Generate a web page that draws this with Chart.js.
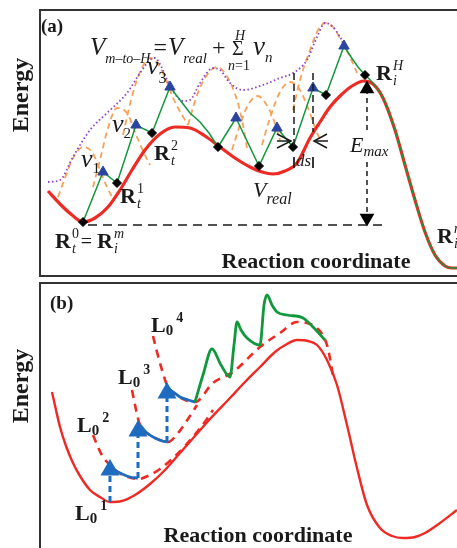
<!DOCTYPE html>
<html lang="en">
<head>
<meta charset="utf-8">
<title>Energy profiles</title>
<script src="https://cdn.jsdelivr.net/npm/chart.js@4.4.1/dist/chart.umd.min.js"></script>
<style>
  html, body { margin: 0; padding: 0; background: #fff; }
  canvas { position: absolute; left: 0; }
  #panelA { top: 0; }
  #panelB { top: 278px; }
</style>
</head>
<body>
<canvas id="panelA" width="457" height="278"></canvas>
<canvas id="panelB" width="457" height="270"></canvas>
<script>
// ===== Panel (a): x = coordenada de reaccion, e = energia =====
const rojoA_x = [48,60,72,83,95,108,120,132,145,160,175,190,205,220,235,250,262,273,285,297,310,320,330,340,352,364,373,383,395,405,415,425,435,445,452,460];
const rojoA_e = [87,74,63,56,60,71,88,108,128,144,151,150,142,131,120,111,106,104,107,115,140,156,171,182,192,197,194,180,148,113,78,46,23,12,10,10];

// camino verde en zigzag (t = triangulo, d = rombo)
const verdeA_x = [83,103,117,136,152,170,180,190,200,209,218,236,259,277,293,313,326,344,351,358,365];
const verdeA_e = [56,106,95,153,145,191,178,165,156,145,131,160,112,150,131,190,183,232,221,211,203];
const verdeA_marca = ["d","t","d","t","d","t","","","","","d","t","d","t","d","t","d","t","","","d"];
const colaA_x = [365,373,383,395,405,415,425,435,445,452,460];
const colaA_e = [203,195,180,148,113,78,46,23,12,10,10];

// envolvente punteada violeta
const violetaA_x = [48,60,73,90,107,127,140,150,155,161,167,175,183,190,200,213,220,230,243,263,280,293,307,317,325,333,340,348];
const violetaA_e = [96,98,121,148,165,185,205,218,220,212,198,184,177,178,195,210,208,195,188,193,200,205,218,241,255,251,241,228];

// jorobas naranjas (v_n)
const naranja1_x = [58,65,72,83,92,100,106,112];
const naranja1_e = [81,100,118,131,126,108,93,81];
const naranja2_x = [93,100,108,117,127,137,144,150];
const naranja2_e = [91,118,150,170,165,141,125,113];
const naranja3_x = [123,131,140,150,158,166,174,182,188];
const naranja3_e = [143,178,206,220,214,198,178,163,153];
const naranja4_x = [188,196,205,217,228,237,243,247];
const naranja4_e = [153,180,200,211,200,178,153,130];
const naranja5_x = [232,240,248,258,266,273,280];
const naranja5_e = [128,153,173,182,174,160,138];
const naranja6_x = [262,270,280,290,300,308,316,320];
const naranja6_e = [133,160,186,196,188,170,148,138];
const naranja7_x = [293,300,310,318,325,333,341,350,357];
const naranja7_e = [168,198,228,248,255,251,238,221,205];

// lineas auxiliares negras
const baseA_x = [88, 387];
const baseA_e = [53, 53];
const emaxArriba_x = [367, 367];
const emaxArriba_e = [189, 148];
const emaxAbajo_x = [367, 367];
const emaxAbajo_e = [116, 60];
const dsIzq_x = [294, 294];
const dsIzq_e = [205, 131];
const dsDer_x = [313, 313];
const dsDer_e = [205, 146];
const barraIzq_x = [294, 294];
const barraDer_x = [313, 313];
const barra_e = [121, 110];
const flechaIzq_x = [277, 291, 277];
const flechaDer_x = [327, 314, 327];
const flecha_e = [144, 137, 130];
const talloIzq_x = [277, 291];
const talloDer_x = [314, 328];
const tallo_e = [137, 137];

// ===== Panel (b) =====
const rojoB_x = [52,56,60,66,73,80,90,100,110,122,135,150,165,180,195,210,230,245,260,275,287,297,308,317,327,337,347,357,367,380,392,403,415,425,440,457];
const rojoB_e = [156,138,121,102,85,72,58,51,46,47,53,64,78,95,112,129,150,166,181,196,204,208,207,203,188,163,123,80,43,20,12,10,11,15,25,38];

const trazo2_x = [93,98,103,108,115,125,138,150,160,172,185,197,207,213];
const trazo2_e = [113,101,91,85,78,72,69,73,79,89,102,116,129,138];
const trazo3_x = [132,135,140,150,160,168,178,188,197];
const trazo3_e = [158,143,123,113,108,106,115,129,143];
const trazo4_x = [153,157,162,167,175,185,195,213,233,260,280,297,307,317,327,332,333];
const trazo4_e = [212,196,178,163,154,148,146,165,176,201,215,226,225,220,203,178,171];

const azul2_x = [108,115,122,130,138];
const azul2_e = [85,78,74,71,70];
const azul3_x = [140,147,155,162,168];
const azul3_e = [123,115,110,107,106];
const azul4_x = [167,173,180,188,195];
const azul4_e = [160,156,151,148,146];

const verdeB_x = [195,203,212,221,230,234,237,241,247,260,264,267,272,277,287,303,313,325];
const verdeB_e = [146,173,199,183,171,203,226,218,210,203,243,253,243,236,233,230,221,208];

// flechas azules verticales (base, punta)
const subida1_x = [110, 110];
const subida1_e = [46, 78];
const subida2_x = [138, 138];
const subida2_e = [70, 117];
const subida3_x = [167, 167];
const subida3_e = [106, 155];

// ===== estilos =====
const ROJO = "#ee2a24";
const VERDE = "#12983c";
const NARANJA = "#f6a25a";
const VIOLETA = "#8a3fc6";
const AZUL = "#1d6cc0";
const AZUL_OSC = "#2a45a0";
const NEGRO = "#1a1a1a";
const SERIF = '"Liberation Serif", "Times New Roman", serif';

const pares = (xs, es) => xs.map((x, i) => ({ x: x, y: es[i] }));

function serie(xs, es, estilo) {
  return Object.assign(
    { data: pares(xs, es), pointRadius: 0, borderWidth: 2, fill: false, tension: 0 },
    estilo,
  );
}

const suave = { cubicInterpolationMode: "monotone" };

function P(t, estilo, tam, dy, dx, fijo) {
  return { t: t, f: `${estilo} ${tam}px ${SERIF}`, dy: dy || 0, dx: dx || 0, fijo: !!fijo };
}

function dibujarPartes(ctx, x, y, partes) {
  let cx = x;
  partes.forEach((p) => {
    ctx.font = p.f;
    ctx.fillText(p.t, cx + p.dx, y + p.dy);
    if (!p.fijo) cx += p.dx + ctx.measureText(p.t).width;
  });
}

// marco y textos del panel
function rotulos(marco, textos) {
  return {
    id: "rotulos",
    beforeDatasetsDraw(chart) {
      const { ctx, scales } = chart;
      const x0 = scales.x.getPixelForValue(marco[0]);
      const x1 = scales.x.getPixelForValue(marco[1]);
      const y0 = scales.y.getPixelForValue(marco[2]);
      const y1 = scales.y.getPixelForValue(marco[3]);
      ctx.save();
      ctx.strokeStyle = "#333";
      ctx.lineWidth = 2;
      ctx.strokeRect(x0, y0, x1 - x0, y1 - y0);
      ctx.restore();
    },
    afterDatasetsDraw(chart) {
      const { ctx, scales } = chart;
      ctx.save();
      ctx.fillStyle = NEGRO;
      ctx.textBaseline = "alphabetic";
      textos.forEach((tx) => {
        const px = scales.x.getPixelForValue(tx.x);
        const py = scales.y.getPixelForValue(tx.e);
        if (tx.rot) {
          ctx.save();
          ctx.translate(px, py);
          ctx.rotate(-Math.PI / 2);
          ctx.textAlign = "center";
          dibujarPartes(ctx, 0, 0, tx.partes);
          ctx.restore();
        } else {
          ctx.textAlign = tx.centro ? "center" : "left";
          dibujarPartes(ctx, px, py, tx.partes);
        }
      });
      ctx.restore();
    },
  };
}

function opciones(emax) {
  return {
    responsive: false,
    animation: false,
    events: [],
    layout: { padding: 0, autoPadding: false },
    plugins: { legend: { display: false }, tooltip: { enabled: false } },
    scales: {
      x: { type: "linear", min: 0, max: 457, display: false },
      y: { type: "linear", min: 0, max: emax, display: false },
    },
  };
}

const R = (sup, sub, supEst) => [
  P("R", "bold", 22),
  P(sup, supEst || "", 14, -10, 1, true),
  P(sub, "italic", 14, 5, 1),
];

const textosA = [
  { x: 41, e: 246, partes: [P("(a)", "bold", 19)] },
  { x: 28, e: 183, rot: true, partes: [P("Energy", "bold", 24)] },
  { x: 316, e: 10, centro: true, partes: [P("Reaction coordinate", "bold", 22)] },
  { x: 90, e: 223, partes: [
    P("V", "italic", 25), P("m–to–H", "italic", 14, 8),
    P("=", "", 24, 0, 3), P("V", "italic", 25, 0, 1), P("real", "italic", 15, 8),
  ] },
  { x: 212, e: 223, partes: [P("+", "", 24)] },
  { x: 232, e: 223, partes: [P("Σ", "", 20)] },
  { x: 235, e: 238, partes: [P("H", "italic", 14)] },
  { x: 228, e: 208, partes: [P("n", "italic", 14), P("=1", "", 14)] },
  { x: 253, e: 223, partes: [P("v", "italic", 27), P("n", "italic", 15, 7)] },
  { x: 81, e: 111, partes: [P("v", "italic", 26), P("1", "", 15, 6)] },
  { x: 112, e: 146, partes: [P("v", "italic", 26), P("2", "", 15, 6)] },
  { x: 147, e: 204, partes: [P("v", "italic", 26), P("3", "", 16, 9)] },
  { x: 120, e: 75, partes: R("1", "t") },
  { x: 154, e: 118, partes: R("2", "t") },
  { x: 55, e: 30, partes: R("0", "t").concat([P(" = ", "", 20)], R("m", "i", "italic")) },
  { x: 253, e: 81, partes: [P("V", "italic", 22), P("real", "italic", 16, 7)] },
  { x: 376, e: 198, partes: R("H", "i", "italic") },
  { x: 437, e: 35, partes: R("n", "i", "italic") },
  { x: 350, e: 126, partes: [P("E", "italic", 22), P("max", "italic", 15, 4)] },
  { x: 296, e: 112, partes: [P("ds", "italic", 17)] },
];

const L = (n) => [P("L", "bold", 22), P("0", "bold", 15, 3), P(n, "bold", 14, -10, 3)];

const textosB = [
  { x: 50, e: 239, partes: [P("(b)", "bold", 19)] },
  { x: 28, e: 162, rot: true, partes: [P("Energy", "bold", 24)] },
  { x: 258, e: 6, centro: true, partes: [P("Reaction coordinate", "bold", 22)] },
  { x: 75, e: 28, partes: L("1") },
  { x: 77, e: 116, partes: L("2") },
  { x: 118, e: 164, partes: L("3") },
  { x: 151, e: 216, partes: L("4") },
];

// ===== Grafico (a) =====
const naranjas = [
  [naranja1_x, naranja1_e], [naranja2_x, naranja2_e], [naranja3_x, naranja3_e],
  [naranja4_x, naranja4_e], [naranja5_x, naranja5_e], [naranja6_x, naranja6_e],
  [naranja7_x, naranja7_e],
].map(([xs, es]) =>
  serie(xs, es, Object.assign({ borderColor: NARANJA, borderWidth: 1.8, borderDash: [6, 4], order: 9 }, suave)),
);

const negro = { borderColor: NEGRO, borderWidth: 1.5, order: 1 };

new Chart(document.getElementById("panelA"), {
  type: "line",
  data: {
    datasets: [
      serie(verdeA_x, verdeA_e, {
        borderColor: VERDE,
        borderWidth: 1.5,
        order: 2,
        pointStyle: verdeA_marca.map((m) => (m === "t" ? "triangle" : "rectRot")),
        pointRadius: verdeA_marca.map((m) => (m === "t" ? 6 : m === "d" ? 4.5 : 0)),
        pointBackgroundColor: verdeA_marca.map((m) => (m === "t" ? AZUL_OSC : "#000")),
        pointBorderColor: verdeA_marca.map((m) => (m === "t" ? AZUL_OSC : "#000")),
        pointBorderWidth: 1,
      }),
      serie(colaA_x, colaA_e, Object.assign({ borderColor: VERDE, borderWidth: 1.3, order: 3 }, suave)),
      serie(rojoA_x, rojoA_e, Object.assign({ borderColor: ROJO, borderWidth: 3.2, order: 5 }, suave)),
      serie(violetaA_x, violetaA_e, Object.assign({ borderColor: VIOLETA, borderWidth: 1.8, borderDash: [1.5, 2.5], order: 8 }, suave)),
      ...naranjas,
      serie(baseA_x, baseA_e, Object.assign({ borderDash: [9, 6] }, negro)),
      serie(emaxArriba_x, emaxArriba_e, Object.assign({
        borderDash: [5, 4], pointStyle: "triangle", pointRadius: [7, 0],
        pointBackgroundColor: "#000", pointBorderColor: "#000",
      }, negro)),
      serie(emaxAbajo_x, emaxAbajo_e, Object.assign({
        borderDash: [5, 4], pointStyle: "triangle", pointRadius: [0, 7], pointRotation: 180,
        pointBackgroundColor: "#000", pointBorderColor: "#000",
      }, negro)),
      serie(dsIzq_x, dsIzq_e, Object.assign({ borderDash: [7, 4] }, negro)),
      serie(dsDer_x, dsDer_e, Object.assign({ borderDash: [7, 4] }, negro)),
      serie(barraIzq_x, barra_e, Object.assign({}, negro, { borderWidth: 1 })),
      serie(barraDer_x, barra_e, Object.assign({}, negro, { borderWidth: 1 })),
      serie(flechaIzq_x, flecha_e, negro),
      serie(flechaDer_x, flecha_e, negro),
      serie(talloIzq_x, tallo_e, negro),
      serie(talloDer_x, tallo_e, negro),
    ],
  },
  options: opciones(278),
  plugins: [rotulos([40, 460, 268, 2], textosA)],
});

// ===== Grafico (b) =====
const rojoDash = Object.assign({ borderColor: ROJO, borderWidth: 2.6, borderDash: [8, 6], order: 6 }, suave);
const azulSolido = Object.assign({ borderColor: AZUL, borderWidth: 2.8, order: 3 }, suave);
const subida = {
  borderColor: AZUL,
  borderWidth: 3,
  borderDash: [6, 4],
  pointStyle: "triangle",
  pointRadius: [0, 8],
  pointBackgroundColor: AZUL,
  pointBorderColor: AZUL,
  order: 1,
};

new Chart(document.getElementById("panelB"), {
  type: "line",
  data: {
    datasets: [
      serie(rojoB_x, rojoB_e, Object.assign({ borderColor: ROJO, borderWidth: 2.4, order: 7 }, suave)),
      serie(trazo2_x, trazo2_e, rojoDash),
      serie(trazo3_x, trazo3_e, rojoDash),
      serie(trazo4_x, trazo4_e, rojoDash),
      serie(azul2_x, azul2_e, azulSolido),
      serie(azul3_x, azul3_e, azulSolido),
      serie(azul4_x, azul4_e, azulSolido),
      serie(verdeB_x, verdeB_e, Object.assign({ borderColor: VERDE, borderWidth: 2.8, order: 2 }, suave)),
      serie(subida1_x, subida1_e, subida),
      serie(subida2_x, subida2_e, subida),
      serie(subida3_x, subida3_e, subida),
    ],
  },
  options: opciones(270),
  plugins: [rotulos([40, 460, 265, -5], textosB)],
});
</script>
</body>
</html>
